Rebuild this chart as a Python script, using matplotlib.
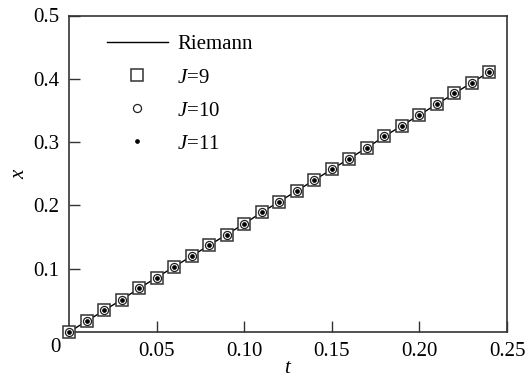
import matplotlib
matplotlib.use("Agg")
import matplotlib.pyplot as plt

plt.rcParams['font.family'] = ['Liberation Serif', 'DejaVu Serif']
plt.rcParams['mathtext.fontset'] = 'custom'
plt.rcParams['mathtext.it'] = 'Liberation Serif:italic'
plt.rcParams['mathtext.rm'] = 'Liberation Serif'

# data
t_vals = [0.00, 0.01, 0.02, 0.03, 0.04, 0.05, 0.06, 0.07, 0.08, 0.09, 0.10, 0.11,
          0.12, 0.13, 0.14, 0.15, 0.16, 0.17, 0.18, 0.19, 0.20, 0.21, 0.22, 0.23, 0.24]
x_riemann = [0.000, 0.017, 0.034, 0.051, 0.069, 0.086, 0.103, 0.120, 0.137, 0.154,
             0.171, 0.189, 0.206, 0.223, 0.240, 0.257, 0.274, 0.291, 0.309, 0.326,
             0.343, 0.360, 0.377, 0.394, 0.411]
x_J9 = list(x_riemann)
x_J10 = list(x_riemann)
x_J11 = list(x_riemann)
xtick_vals = [0.05, 0.10, 0.15, 0.20, 0.25]
xtick_labels = ["0.05", "0.10", "0.15", "0.20", "0.25"]
ytick_vals = [0.1, 0.2, 0.3, 0.4, 0.5]
ytick_labels = ["0.1", "0.2", "0.3", "0.4", "0.5"]

fig = plt.figure(figsize=(5.32, 3.78), dpi=100)
ax = fig.add_axes([69/532, 46/378, 438/532, 316.5/378])

ax.plot(t_vals, x_riemann, color='black', lw=1.0, label='Riemann', zorder=2)
ax.plot(t_vals, x_J9, ls='none', marker='s', ms=8.5, mfc='white', mec='#333333', mew=1.1,
        label=r'$J$=9', zorder=3, clip_on=False)
ax.plot(t_vals, x_J10, ls='none', marker='o', ms=5.8, mfc='white', mec='#222222', mew=0.9,
        label=r'$J$=10', zorder=4, clip_on=False)
ax.plot(t_vals, x_J11, ls='none', marker='o', ms=2.8, mfc='black', mec='black', mew=0.5,
        label=r'$J$=11', zorder=5, clip_on=False)

ax.set_xlim(0, 0.25)
ax.set_ylim(0, 0.5)
ax.set_xticks(xtick_vals)
ax.set_xticklabels(xtick_labels)
ax.set_yticks(ytick_vals)
ax.set_yticklabels(ytick_labels)
ax.tick_params(direction='in', length=8, width=1.0, labelsize=15, pad=7,
               top=False, right=False, color='#333333')
for s in ax.spines.values():
    s.set_linewidth(1.2)
    s.set_color('#333333')

ax.annotate("0", xy=(0, 0), xycoords='data', xytext=(-14, -15),
            textcoords='offset pixels', ha='center', va='center', fontsize=15)

ax.set_xlabel(r'$t$', fontsize=15, labelpad=-1)
ax.set_ylabel(r'$x$', fontsize=15, labelpad=3)

leg = ax.legend(loc='upper left', bbox_to_anchor=(0.087, 0.939), frameon=False,
                fontsize=15, handlelength=2.9, handletextpad=0.45,
                labelspacing=0.65, borderpad=0, borderaxespad=0)

fig.savefig("out.png", dpi=100)
